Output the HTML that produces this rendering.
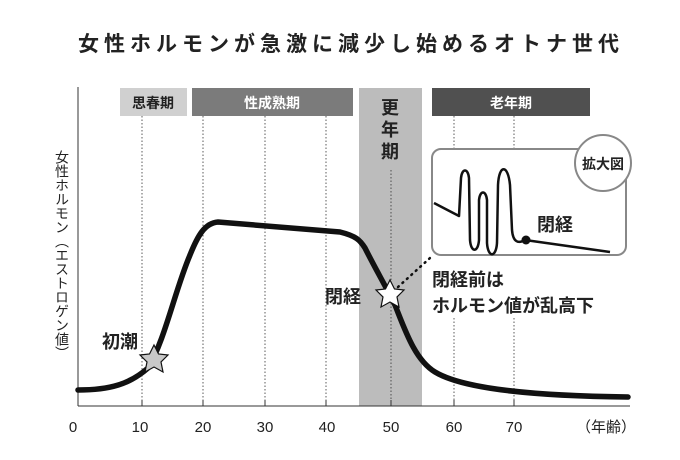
<!DOCTYPE html>
<html><head><meta charset="utf-8"><style>
body{margin:0;background:#fff;}
svg{display:block;font-family:"Liberation Sans","Noto Sans CJK JP",sans-serif;}
</style></head><body>
<svg width="680" height="460" viewBox="0 0 680 460">
<text x="351" y="51" text-anchor="middle" font-size="21" font-weight="bold" letter-spacing="5" fill="#222">女性ホルモンが急激に減少し始めるオトナ世代</text>
<!-- bands -->
<rect x="359" y="88" width="63" height="318" fill="#bcbcbc"/>
<rect x="120" y="88" width="67" height="28" fill="#d0d0d0"/>
<rect x="192" y="88" width="161" height="28" fill="#7b7b7b"/>
<rect x="432" y="88" width="158" height="28" fill="#505050"/>
<text x="153" y="108" text-anchor="middle" font-size="14" font-weight="bold" fill="#222">思春期</text>
<text x="272" y="108" text-anchor="middle" font-size="14" font-weight="bold" fill="#fff">性成熟期</text>
<text x="511" y="108" text-anchor="middle" font-size="14" font-weight="bold" fill="#fff">老年期</text>
<text font-size="18" font-weight="bold" fill="#222" text-anchor="middle"><tspan x="390" y="114">更</tspan><tspan x="390" y="136">年</tspan><tspan x="390" y="158">期</tspan></text>
<!-- grid -->
<g stroke="#333" stroke-width="0.8" stroke-dasharray="1.5,2">
<line x1="142" y1="116" x2="142" y2="406"/><line x1="203" y1="116" x2="203" y2="406"/>
<line x1="265" y1="116" x2="265" y2="406"/><line x1="326" y1="116" x2="326" y2="406"/>
<line x1="391" y1="170" x2="391" y2="406"/><line x1="454" y1="116" x2="454" y2="150"/>
<line x1="454" y1="318" x2="454" y2="406"/><line x1="514" y1="116" x2="514" y2="150"/>
<line x1="514" y1="318" x2="514" y2="406"/>
</g>
<!-- axes -->
<line x1="78" y1="87" x2="78" y2="406" stroke="#333" stroke-width="1"/>
<line x1="78" y1="406" x2="630" y2="406" stroke="#333" stroke-width="1"/>
<g stroke="#333" stroke-width="1"><line x1="142" y1="400" x2="142" y2="406"/><line x1="203" y1="400" x2="203" y2="406"/><line x1="265" y1="400" x2="265" y2="406"/><line x1="326" y1="400" x2="326" y2="406"/><line x1="391" y1="400" x2="391" y2="406"/><line x1="454" y1="400" x2="454" y2="406"/><line x1="514" y1="400" x2="514" y2="406"/></g>
<g font-size="15" fill="#222" text-anchor="middle">
<text x="73" y="432">0</text><text x="140" y="432">10</text><text x="203" y="432">20</text><text x="265" y="432">30</text><text x="327" y="432">40</text><text x="391" y="432">50</text><text x="454" y="432">60</text><text x="514" y="432">70</text><text x="606" y="432">（年齢）</text>
</g>
<text x="62" y="150" font-size="14" fill="#222" style="writing-mode:vertical-rl" letter-spacing="0">女性ホルモン（エストロゲン値）</text>
<!-- curve -->
<path d="M78,390 C110,390 130,384 148,368 C165,340 175,290 190,255 C198,235 205,223 218,222 L340,232 C356,236 360,240 365,248 C375,268 385,285 395,305 C405,330 415,360 435,372 C465,390 540,396 628,397" fill="none" stroke="#111" stroke-width="5.5" stroke-linecap="round" stroke-linejoin="round"/>
<!-- stars -->
<polygon points="154,345 158.5,354 168,355 161,362 163,372 154,367 145,372 147,362 140,355 149.5,354" fill="#c8c8c8" stroke="#111" stroke-width="1.2"/>
<polygon points="390,280 394.5,289 404,290 397,297 399,307 390,302 381,307 383,297 376,290 385.5,289" fill="#fff" stroke="#111" stroke-width="1.2"/>
<line x1="398" y1="287" x2="430" y2="258" stroke="#111" stroke-width="2.5" stroke-dasharray="1,5" stroke-linecap="round"/>
<text x="120" y="348" text-anchor="middle" font-size="18" font-weight="bold" fill="#222">初潮</text>
<text x="343" y="303" text-anchor="middle" font-size="18" font-weight="bold" fill="#222">閉経</text>
<text x="432" y="286" font-size="18" font-weight="bold" fill="#222">閉経前は</text>
<text x="432" y="312" font-size="18" font-weight="bold" fill="#222">ホルモン値が乱高下</text>
<!-- inset -->
<rect x="432" y="149" width="194" height="106" rx="9" fill="#fff" stroke="#888" stroke-width="2"/>
<path d="M434,203 L459,216 L461,178 C462,168 468,168 469,178 L470,240 C471,253 478,253 479,240 L479,200 C480,190 486,190 487,200 L487,243 C488,258 496,258 497,243 L498,185 C499,164 508,164 510,185 L512,230 C513,242 518,244 525,240 L610,252" fill="none" stroke="#111" stroke-width="2.5" stroke-linejoin="round"/>
<circle cx="526" cy="240" r="4.5" fill="#111"/>
<text x="537" y="231" font-size="18" font-weight="bold" fill="#222">閉経</text>
<circle cx="603" cy="163" r="28" fill="#fff" stroke="#888" stroke-width="2"/>
<text x="603" y="169" text-anchor="middle" font-size="14" font-weight="bold" fill="#222">拡大図</text>
</svg>
</body></html>
